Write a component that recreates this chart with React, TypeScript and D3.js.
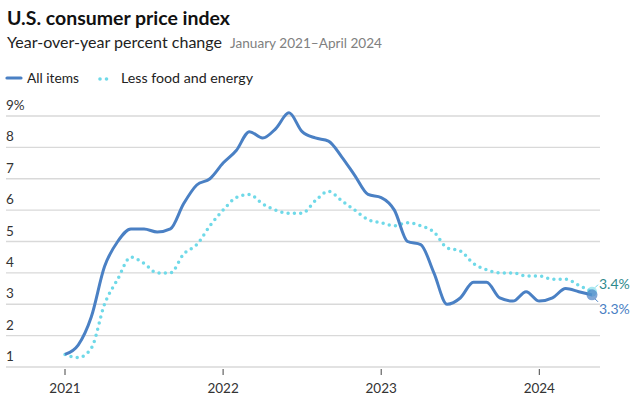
import React from "react";
import * as d3 from "d3";

const months: string[] = [];
for (let y = 2021; y <= 2024; y++) {
  for (let m = 1; m <= 12; m++) {
    if (y === 2024 && m > 5) break;
    months.push(`${y}-${String(m).padStart(2, "0")}`);
  }
}

const allItems = [
  1.4, 1.7, 2.6, 4.2, 5.0, 5.4, 5.4, 5.3, 5.4, 6.2, 6.8, 7.0,
  7.5, 7.9, 8.5, 8.3, 8.6, 9.1, 8.5, 8.3, 8.2, 7.7, 7.1, 6.5,
  6.4, 6.0, 5.0, 4.9, 4.0, 3.0, 3.2, 3.7, 3.7, 3.2, 3.1, 3.4,
  3.1, 3.2, 3.5, 3.4, 3.3,
];

const core = [
  1.4, 1.3, 1.6, 3.0, 3.8, 4.5, 4.3, 4.0, 4.0, 4.6, 4.9, 5.5,
  6.0, 6.4, 6.5, 6.2, 6.0, 5.9, 5.9, 6.3, 6.6, 6.3, 6.0, 5.7,
  5.6, 5.5, 5.6, 5.5, 5.3, 4.8, 4.7, 4.3, 4.1, 4.0, 4.0, 3.9,
  3.9, 3.8, 3.8, 3.6, 3.4,
];

const yTicks = [1, 2, 3, 4, 5, 6, 7, 8, 9];
const xTickLabels = ["2021", "2022", "2023", "2024"];

const W = 640;
const H = 403;
const FONT = "Lato, 'Open Sans', sans-serif";
const BLUE = "#4a80c4";
const CYAN = "#6fd9e8";
const TEAL = "#2f8a8c";

export default function App() {
  const x = d3.scaleLinear().domain([0, months.length - 1]).range([65, 592]);
  const y = d3.scaleLinear().domain([1, 9]).range([367, 116]);
  const line = d3
    .line<number>()
    .x((_, i) => x(i))
    .y((d) => y(d))
    .curve(d3.curveMonotoneX);

  const last = months.length - 1;

  return (
    <svg
      width={W}
      height={H}
      style={{ position: "absolute", left: 0, top: 0, background: "#fff" }}
      fontFamily={FONT}
    >
      <text x={7} y={25} fontSize={19.5} fontWeight={700} fill="#111" textLength={223} lengthAdjust="spacingAndGlyphs">
        U.S. consumer price index
      </text>
      <text x={7} y={48} fontSize={15} fill="#222" textLength={215} lengthAdjust="spacingAndGlyphs">
        Year-over-year percent change
      </text>
      <text x={230} y={48} fontSize={13.5} fill="#808080" textLength={152} lengthAdjust="spacingAndGlyphs">
        January 2021–April 2024
      </text>

      {/* legend */}
      <line x1={7} x2={21} y1={78} y2={78} stroke={BLUE} strokeWidth={3.2} strokeLinecap="round" />
      <text x={27} y={83} fontSize={14} fill="#222" textLength={52} lengthAdjust="spacingAndGlyphs">
        All items
      </text>
      <circle cx={100} cy={79} r={1.8} fill={CYAN} />
      <circle cx={106.5} cy={79} r={1.8} fill={CYAN} />
      <text x={121} y={83} fontSize={14} fill="#222" textLength={132} lengthAdjust="spacingAndGlyphs">
        Less food and energy
      </text>

      {/* grid */}
      {yTicks.map((t) => (
        <g key={t}>
          <line x1={6} x2={600} y1={y(t)} y2={y(t)} stroke="#d9d9d9" strokeWidth={1.3} />
          <text x={6} y={y(t) - 6} fontSize={13.5} fill="#333">
            {t === 9 ? `${t}%` : t}
          </text>
        </g>
      ))}

      {/* x axis */}
      {xTickLabels.map((lab, i) => (
        <g key={lab}>
          <line x1={x(i * 12)} x2={x(i * 12)} y1={369} y2={375} stroke="#444" strokeWidth={1} />
          <text x={x(i * 12)} y={393} fontSize={13.5} fill="#333" textAnchor="middle">
            {lab}
          </text>
        </g>
      ))}

      {/* lines */}
      <path
        d={line(core) || ""}
        fill="none"
        stroke={CYAN}
        strokeWidth={3.5}
        strokeLinecap="round"
        strokeDasharray="0 6.3"
      />
      <path d={line(allItems) || ""} fill="none" stroke={BLUE} strokeWidth={3} strokeLinejoin="round" />

      {/* end markers */}
      <circle cx={x(last)} cy={y(core[last])} r={5} fill={CYAN} fillOpacity={0.6} />
      <circle cx={x(last)} cy={y(allItems[last])} r={5.5} fill={BLUE} fillOpacity={0.7} />
      <line
        x1={x(last) + 3}
        x2={x(last) + 6}
        y1={y(core[last]) - 4}
        y2={y(core[last]) - 7}
        stroke={CYAN}
        strokeWidth={1}
      />
      <line
        x1={x(last) + 3}
        x2={x(last) + 6}
        y1={y(allItems[last]) + 4}
        y2={y(allItems[last]) + 7}
        stroke={BLUE}
        strokeWidth={1}
      />
      <text x={599} y={y(core[last]) - 3} fontSize={14} fill={TEAL}>
        {`${core[last]}%`}
      </text>
      <text x={599} y={y(allItems[last]) + 19} fontSize={14} fill={BLUE}>
        {`${allItems[last]}%`}
      </text>
    </svg>
  );
}
